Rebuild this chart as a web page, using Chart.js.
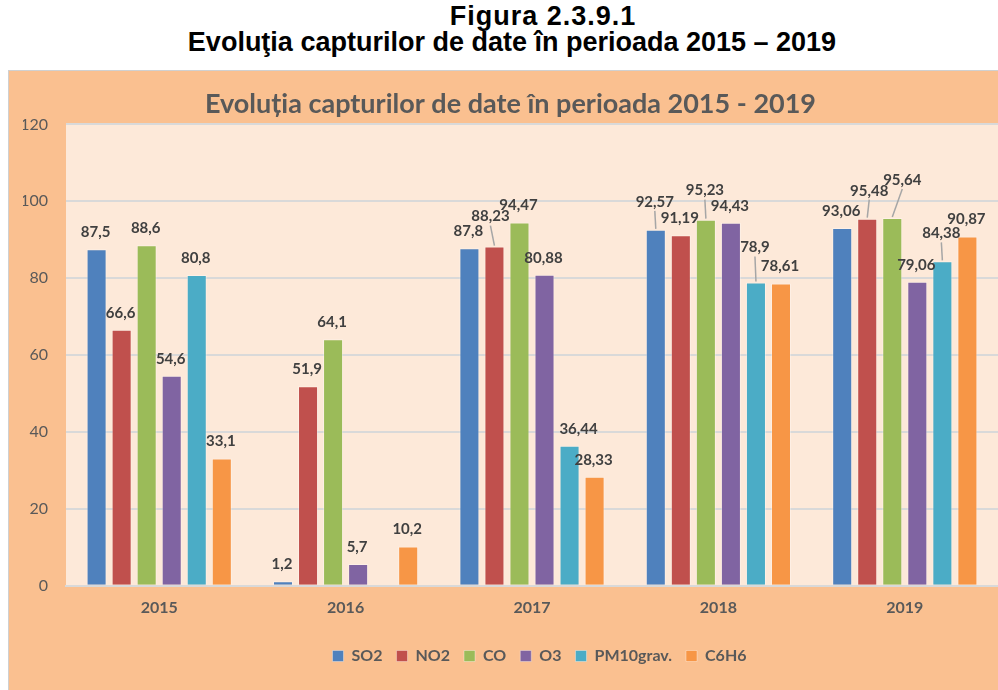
<!DOCTYPE html>
<html>
<head>
<meta charset="utf-8">
<script src="https://cdn.jsdelivr.net/npm/chart.js@4.4.1/dist/chart.umd.min.js"></script>
<style>
  body { margin: 0; background: #fff; width: 998px; height: 690px; overflow: hidden; position: relative; }
  .hdr { position: absolute; left: 0; width: 998px; text-align: center; font-family: "Liberation Sans", Arial, sans-serif; font-weight: bold; font-size: 27px; line-height: 31px; color: #000; white-space: nowrap; }
  #box { position: absolute; left: 8px; top: 70px; width: 989px; height: 619px; background: #FAC090; border-left: 1px solid #d0d0d0; border-top: 1px solid #d0d0d0; }
</style>
</head>
<body>
<div class="hdr" style="top:1px; left:44px; letter-spacing:1px;">Figura 2.3.9.1</div>
<div class="hdr" style="top:27px; left:13px;">Evoluţia capturilor de date în perioada 2015 – 2019</div>
<div id="box"><canvas id="chart"></canvas></div>
<script>
// date
const years = ["2015", "2016", "2017", "2018", "2019"];
const seriesNames = ["SO2", "NO2", "CO", "O3", "PM10grav.", "C6H6"];
const so2 = [87.5, 1.2, 87.8, 92.57, 93.06];
const no2 = [66.6, 51.9, 88.23, 91.19, 95.48];
const co = [88.6, 64.1, 94.47, 95.23, 95.64];
const o3 = [54.6, 5.7, 80.88, 94.43, 79.06];
const pm10 = [80.8, null, 36.44, 78.9, 84.38];
const c6h6 = [33.1, 10.2, 28.33, 78.61, 90.87];
const yTicks = [0, 20, 40, 60, 80, 100, 120];

const colors = ["#4F81BD", "#C0504D", "#9BBB59", "#8064A2", "#4BACC6", "#F79646"];

// etichete mutate (serie, an) -> [dx, dy], cu linie de legatura
const labelShift = {
  "1,2": [-3, -13],
  "4,2": [10, 0],
  "0,3": [0, -11],
  "2,3": [0, -12],
  "4,3": [0, -18],
  "1,4": [3, -11],
  "2,4": [11, -21],
  "4,4": [0, -11]
};

const allSeries = [so2, no2, co, o3, pm10, c6h6];

const plotBg = {
  id: "plotBg",
  beforeDraw(chart) {
    const { ctx, chartArea: a } = chart;
    ctx.save();
    ctx.fillStyle = "#FDE9D9";
    ctx.fillRect(a.left, a.top, a.right - a.left, a.bottom - a.top);
    ctx.restore();
  }
};

// legenda din Excel e putin spre dreapta
const legendShift = {
  id: "legendShift",
  afterLayout(chart) {
    chart.legend.left += 29;
    chart.legend.right += 29;
  }
};

const valueLabels = {
  id: "valueLabels",
  afterDatasetsDraw(chart) {
    const ctx = chart.ctx;
    ctx.save();
    ctx.font = "bold 15px Lato";
    ctx.textAlign = "center";
    ctx.textBaseline = "middle";
    chart.data.datasets.forEach((ds, si) => {
      const meta = chart.getDatasetMeta(si);
      meta.data.forEach((bar, yi) => {
        const v = ds.data[yi];
        if (v === null || v === undefined) return;
        const sh = labelShift[si + "," + yi] || [0, 0];
        const lx = bar.x - 1 + sh[0];
        const ly = bar.y - 17 + sh[1];
        if (sh[1] < -5) {
          ctx.strokeStyle = "#A6A6A6";
          ctx.lineWidth = 1.5;
          ctx.beginPath();
          ctx.moveTo(bar.x, bar.y - 1);
          ctx.lineTo(lx, ly + 9);
          ctx.stroke();
        }
        ctx.fillStyle = "#404040";
        ctx.fillText(String(v).replace(".", ","), lx, ly);
      });
    });
    ctx.restore();
  }
};

new Chart(document.getElementById("chart"), {
  type: "bar",
  data: {
    labels: years,
    datasets: allSeries.map((d, i) => ({
      label: seriesNames[i],
      data: d,
      backgroundColor: colors[i],
      borderColor: "rgba(255,255,255,0.35)",
      borderWidth: 1,
      barPercentage: 0.8,
      categoryPercentage: 0.806
    }))
  },
  options: {
    responsive: true,
    maintainAspectRatio: false,
    animation: false,
    layout: { padding: { left: 14, right: 0, top: 0, bottom: 16 } },
    plugins: {
      title: {
        display: true,
        text: "Evoluția capturilor de date în perioada 2015 - 2019",
        color: "#595959",
        font: { family: "Lato", size: 27, weight: "bold" },
        padding: { top: 17, bottom: 4 }
      },
      legend: {
        position: "bottom",
        labels: {
          color: "#595959",
          font: { family: "Lato", size: 16, weight: "bold" },
          boxWidth: 11,
          boxHeight: 11,
          padding: 14
        }
      },
      tooltip: { enabled: false }
    },
    scales: {
      x: {
        grid: { display: false, drawTicks: false },
        border: { color: "#D9D9D9", width: 2 },
        ticks: {
          color: "#595959",
          font: { family: "Lato", size: 16, weight: "bold" },
          padding: 12
        },
        afterFit(scale) { scale.height += 5; }
      },
      y: {
        min: 0,
        max: 120,
        afterBuildTicks(scale) { scale.ticks = yTicks.map(v => ({ value: v })); },
        afterFit(scale) { scale.width = 43; },
        grid: { color: "#D9D9D9", lineWidth: 2, drawTicks: false },
        border: { display: false },
        ticks: {
          color: "#595959",
          font: { family: "Lato", size: 16 },
          padding: 18
        }
      }
    }
  },
  plugins: [plotBg, legendShift, valueLabels]
});
</script>
</body>
</html>
